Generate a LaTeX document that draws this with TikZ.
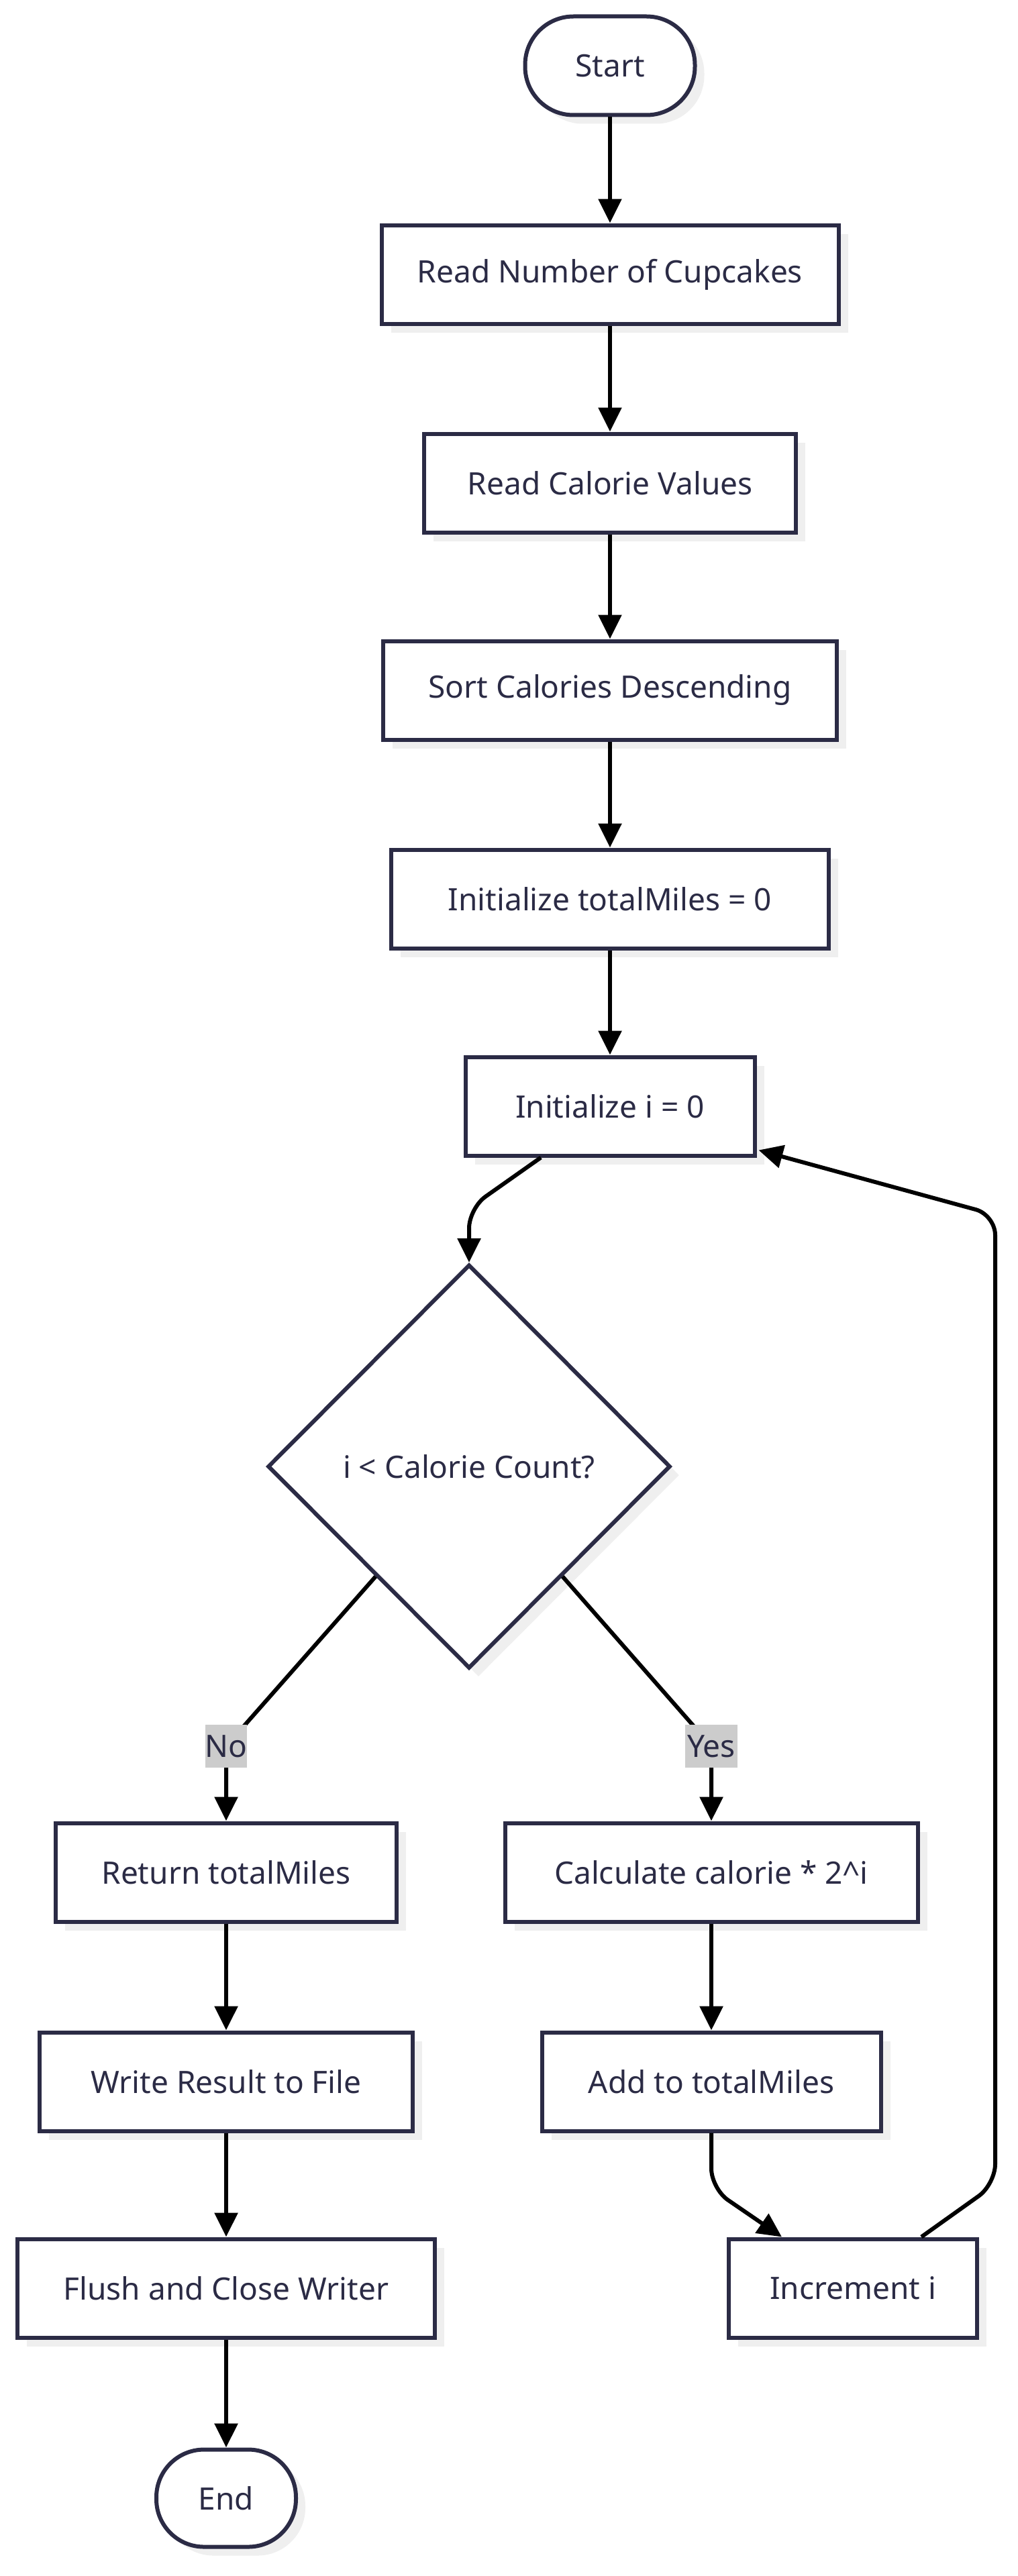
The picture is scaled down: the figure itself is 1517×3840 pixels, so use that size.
\documentclass[tikz,border=0pt]{standalone}
\usepackage{fontspec}
\setmainfont{Noto Sans}
\usetikzlibrary{arrows.meta,shapes.geometric,shadows,calc}
\definecolor{ink}{HTML}{2B2B45}
\definecolor{shade}{HTML}{EFEFEF}
\definecolor{lblbg}{HTML}{CCCCCC}
\begin{document}
\begin{tikzpicture}[x=1pt,y=-1pt,
  box/.style={draw=ink, line width=6pt, fill=white, minimum height=147pt, inner sep=0pt,
    font=\fontsize{46}{54}\selectfont, text=ink,
    drop shadow={shadow xshift=14pt, shadow yshift=-13pt, fill=shade, opacity=1}},
  term/.style={box, rounded corners=72pt},
  dia/.style={box, shape=diamond, minimum width=600pt, minimum height=602pt},
  lbl/.style={fill=lblbg, text=ink, font=\fontsize{46}{54}\selectfont, inner sep=0pt, minimum height=64pt},
  flow/.style={line width=6pt, draw=black, -{Triangle[length=36pt,width=34pt]}, rounded corners=30pt}
]
\useasboundingbox (0,0) rectangle (1517,3840);
\fill[white] (0,0) rectangle (1517,3840);

\node[term, minimum width=253pt] (start) at (909,98) {Start};
\node[box, minimum width=681pt] (r1) at (909,409) {Read Number of Cupcakes};
\node[box, minimum width=554pt] (r2) at (909,720) {Read Calorie Values};
\node[box, minimum width=676pt] (r3) at (909,1029) {Sort Calories Descending};
\node[box, minimum width=652pt] (r4) at (909,1340) {Initialize totalMiles = 0};
\node[box, minimum width=431pt] (init) at (909,1649) {Initialize i = 0};
\node[dia] (dia) at (699,2186) {i < Calorie Count?};
\node[box, minimum width=508pt] (ret) at (337,2791) {Return totalMiles};
\node[box, minimum width=556pt] (wr) at (337,3103) {Write Result to File};
\node[box, minimum width=622pt] (fl) at (337,3411) {Flush and Close Writer};
\node[term, minimum width=208pt, minimum height=145pt, rounded corners=71pt] (end) at (337,3724) {End};
\node[box, minimum width=615pt] (calc) at (1060,2791) {Calculate calorie * 2\^{}i};
\node[box, minimum width=505pt] (add) at (1060,3103) {Add to totalMiles};
\node[box, minimum width=370pt] (inc) at (1271,3411) {Increment i};

\coordinate (k1) at (1483,3256);
\coordinate (k2) at (1483,1811);

\draw[flow] (start.south) -- (r1.north);
\draw[flow] (r1.south) -- (r2.north);
\draw[flow] (r2.south) -- (r3.north);
\draw[flow] (r3.south) -- (r4.north);
\draw[flow] (r4.south) -- (init.north);
\draw[flow] ($(init.south)+(-103,0)$) -- ($(dia.north)+(0,-81)$) -- (dia.north);
\draw[flow] ($(dia.west)!0.54!(dia.south)$) -- (337,2603) -- (ret.north);
\draw[flow] ($(dia.east)!0.54!(dia.south)$) -- (1060,2603) -- (calc.north);
\draw[flow] (ret.south) -- (wr.north);
\draw[flow] (wr.south) -- (wr.south |- fl.north);
\draw[flow] (fl.south) -- (fl.south |- end.north);
\draw[flow] (calc.south) -- (add.north);
\draw[flow] (add.south) -- ($(add.south)+(0,83)$) -- ($(inc.north)+(-106,0)$);
\draw[flow] ($(inc.north)+(102,0)$) -- (k1) -- (k2) -- ($(init.south east)+(3,-11)$);

\node[lbl, minimum width=56pt] (no) at (337,2603) {No};
\node[lbl, minimum width=78pt] (yes) at (1060,2603) {Yes};
\end{tikzpicture}
\end{document}
